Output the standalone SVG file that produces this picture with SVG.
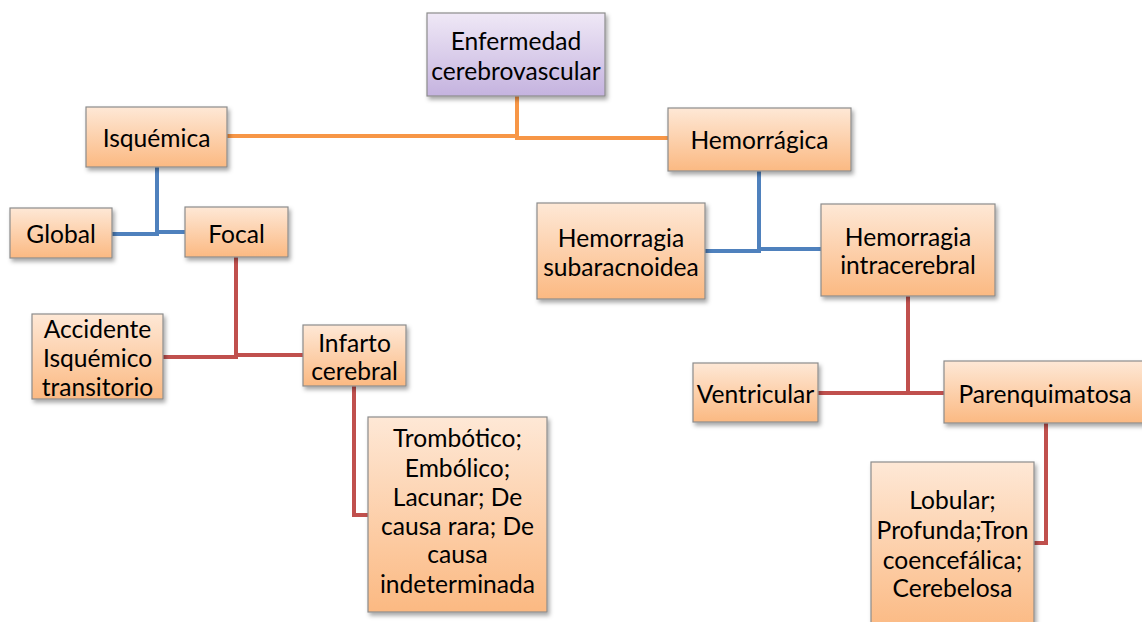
<svg xmlns="http://www.w3.org/2000/svg" width="1142" height="622" viewBox="0 0 1142 622">
<defs>
<linearGradient id="og" x1="0" y1="0" x2="0" y2="1">
<stop offset="0" stop-color="#fee8d6"/>
<stop offset="1" stop-color="#fbb982"/>
</linearGradient>
<linearGradient id="pg" x1="0" y1="0" x2="0" y2="1">
<stop offset="0" stop-color="#efe8f6"/>
<stop offset="1" stop-color="#c5b3df"/>
</linearGradient>
<filter id="sh" x="-10%" y="-10%" width="130%" height="130%">
<feDropShadow dx="2" dy="3" stdDeviation="2" flood-color="#000" flood-opacity="0.35"/>
</filter>
</defs>
<style>
.box{fill:url(#og);stroke:#8c8c8c;stroke-width:1.2;filter:url(#sh)}
.root{fill:url(#pg);stroke:#8c8c8c;stroke-width:1.2;filter:url(#sh)}
text{font-family:Lato,"Liberation Sans",sans-serif;font-size:24.6px;fill:#000;text-anchor:middle;dominant-baseline:central}
.c{fill:none;stroke-width:4}
.o{stroke:#f79646}.b{stroke:#4f81bd}.r{stroke:#c0504d}
</style>
<rect width="1142" height="622" fill="#fff"/>
<g id="connectors">
<path class="c o" d="M517 96 V137 M227 136 H519 M515 138 H668"/>
<path class="c b" d="M157 167 V233 M112 234 H159 M155 232 H185"/>
<path class="c b" d="M759 171 V251 M705 251 H761 M757 249 H821"/>
<path class="c r" d="M236 257 V357 M163 357 H238 M234 355 H303"/>
<path class="c r" d="M354 386 V515 H370"/>
<path class="c r" d="M908 296 V393 M818 393 H944"/>
<path class="c r" d="M1046 423 V543 H1034"/>
</g>
<g id="n-root"><rect class="root" x="427" y="13" width="178" height="83"/><text x="516" y="40">Enfermedad</text><text x="516" y="70">cerebrovascular</text></g>
<g id="n-isquemica"><rect class="box" x="86" y="107" width="141" height="60"/><text x="156.5" y="137">Isquémica</text></g>
<g id="n-hemorragica"><rect class="box" x="668" y="108" width="183" height="63"/><text x="759.5" y="139">Hemorrágica</text></g>
<g id="n-global"><rect class="box" x="10" y="208" width="102" height="50"/><text x="61" y="233">Global</text></g>
<g id="n-focal"><rect class="box" x="185" y="207" width="103" height="50"/><text x="236.5" y="233">Focal</text></g>
<g id="n-ait"><rect class="box" x="32" y="314" width="131" height="85"/><text x="97.5" y="328">Accidente</text><text x="97.5" y="357">Isquémico</text><text x="97.5" y="386">transitorio</text></g>
<g id="n-infarto"><rect class="box" x="303" y="325" width="103" height="61"/><text x="354.5" y="342">Infarto</text><text x="354.5" y="370">cerebral</text></g>
<g id="n-tipos"><rect class="box" x="368" y="417" width="179" height="195"/><text x="457.5" y="437">Trombótico;</text><text x="457.5" y="467">Embólico;</text><text x="457.5" y="496">Lacunar; De</text><text x="457.5" y="525">causa rara; De</text><text x="457.5" y="553">causa</text><text x="457.5" y="583">indeterminada</text></g>
<g id="n-sub"><rect class="box" x="537" y="203" width="168" height="96"/><text x="621" y="237">Hemorragia</text><text x="621" y="266">subaracnoidea</text></g>
<g id="n-intra"><rect class="box" x="821" y="204" width="174" height="92"/><text x="908" y="236">Hemorragia</text><text x="908" y="264">intracerebral</text></g>
<g id="n-ventricular"><rect class="box" x="693" y="363" width="125" height="59"/><text x="755.5" y="393">Ventricular</text></g>
<g id="n-parenq"><rect class="box" x="944" y="361" width="202" height="62"/><text x="1045" y="393">Parenquimatosa</text></g>
<g id="n-lobular"><rect class="box" x="871" y="462" width="163" height="170"/><text x="952.5" y="499">Lobular;</text><text x="952.5" y="529">Profunda;Tron</text><text x="952.5" y="559">coencefálica;</text><text x="952.5" y="587">Cerebelosa</text></g>
</svg>
